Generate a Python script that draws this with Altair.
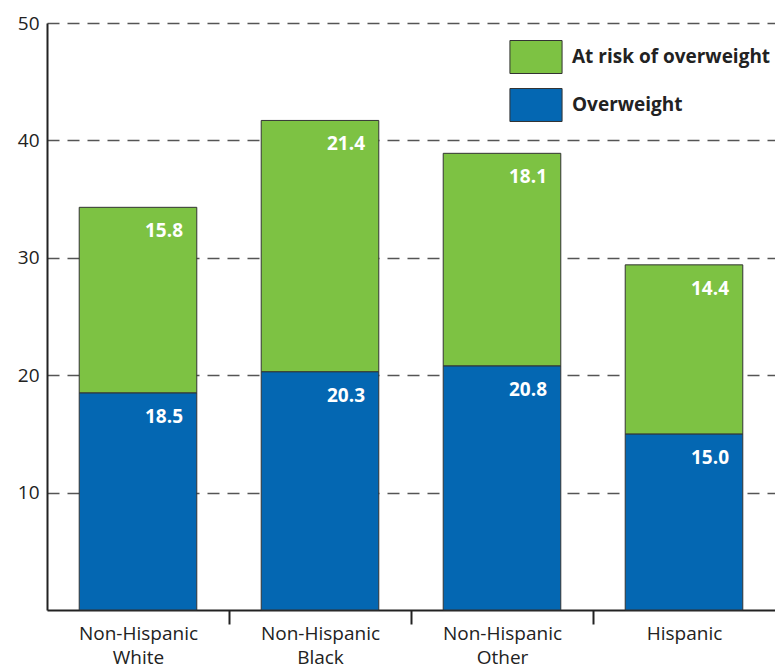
import altair as alt
import pandas as pd

# Share of children by race/ethnicity group (percent)
groups = ["Non-Hispanic White", "Non-Hispanic Black", "Non-Hispanic Other", "Hispanic"]
overweight = [18.5, 20.3, 20.8, 15.0]
at_risk = [15.8, 21.4, 18.1, 14.4]

series = ["At risk of overweight", "Overweight"]
colors = ["#7DC243", "#0467B2"]
y_ticks = [10, 20, 30, 40, 50]

rows = []
for g, ow, ar in zip(groups, overweight, at_risk):
    rows.append({"group": g, "series": "Overweight", "value": ow, "stack_order": 0})
    rows.append({"group": g, "series": "At risk of overweight", "value": ar, "stack_order": 1})
df = pd.DataFrame(rows)

FONT = "Open Sans"
INK = "#222222"
SIZE = 19

# Contiguous bands so that the separator ticks fall midway between bars;
# the bars themselves take a fraction of each band.
x_enc = alt.X(
    "group:N",
    sort=groups,
    title=None,
    scale=alt.Scale(paddingInner=0, paddingOuter=0),
    axis=alt.Axis(
        labelAngle=0,
        labelExpr=(
            "!isValid(datum.value) ? '' : "
            "(datum.value == 'Hispanic' ? datum.value : split(datum.value, ' '))"
        ),
        labelFont=FONT,
        labelFontSize=SIZE,
        labelColor=INK,
        labelLineHeight=24,
        labelPadding=0,
        tickBand="extent",
        tickSize=14,
        tickWidth=2,
        tickColor=INK,
        # only the separators between neighbouring groups are drawn
        tickOpacity={
            "condition": {
                "test": (
                    "datum.value === 'Non-Hispanic White' || "
                    "datum.value === 'Non-Hispanic Black' || "
                    "datum.value === 'Non-Hispanic Other'"
                ),
                "value": 1,
            },
            "value": 0,
        },
        domainColor=INK,
        domainWidth=2,
        grid=False,
    ),
)

y_enc = alt.Y(
    "y1:Q",
    title=None,
    scale=alt.Scale(domain=[0, 50], nice=False),
    axis=alt.Axis(
        values=y_ticks,
        ticks=False,
        labelFont=FONT,
        labelFontSize=SIZE,
        labelColor=INK,
        labelPadding=8,
        domainColor=INK,
        domainWidth=2,
        grid=True,
        gridDash=[12, 8],
        gridColor="#555555",
        gridWidth=1.3,
    ),
)

base = alt.Chart(df).transform_stack(
    stack="value",
    groupby=["group"],
    as_=["y0", "y1"],
    sort=[alt.SortField("stack_order", order="ascending")],
)

bars = base.mark_bar(
    stroke="#333333", strokeWidth=1, width=alt.RelativeBandSize(0.646)
).encode(
    x=x_enc,
    y=y_enc,
    y2="y0:Q",
    color=alt.Color(
        "series:N",
        scale=alt.Scale(domain=series, range=colors),
        legend=alt.Legend(
            title=None,
            orient="none",
            legendX=472,
            legendY=17,
            padding=0,
            symbolType="M-1.58,-1H1.58V1H-1.58Z",
            symbolSize=1089,
            symbolStrokeColor="#333333",
            symbolStrokeWidth=1,
            symbolOpacity=1,
            labelOffset=19,
            labelLimit=400,
            labelFont=FONT,
            labelFontSize=SIZE,
            labelFontWeight="bold",
            labelColor=INK,
            rowPadding=10,
        ),
    ),
)

labels = base.mark_text(
    align="right",
    baseline="top",
    dx=45,
    dy=15,
    color="white",
    font=FONT,
    fontSize=SIZE,
    fontWeight="bold",
).encode(
    x=alt.X("group:N", sort=groups),
    y=alt.Y("y1:Q"),
    text=alt.Text("value:Q", format=".1f"),
)

chart = (
    alt.layer(bars, labels)
    .properties(
        width=728,
        height=587,
        autosize=alt.AutoSizeParams(type="none"),
        padding={"left": 47, "top": 23, "right": 0, "bottom": 59},
    )
    .configure_view(stroke=None)
)

chart.save("out.html", embed_options={"renderer": "svg", "actions": False})
